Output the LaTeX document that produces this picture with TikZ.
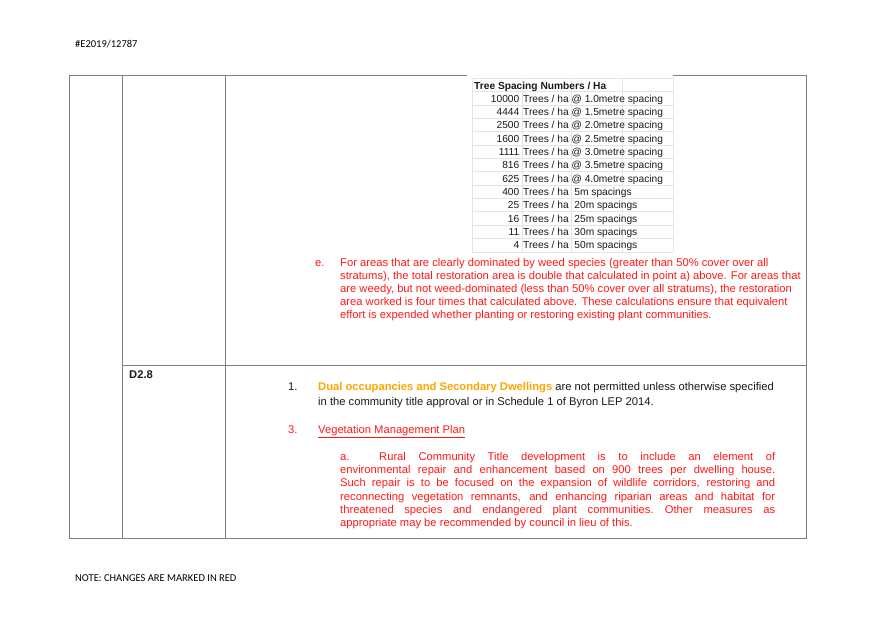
\documentclass[tikz,border=0pt]{standalone}
\usepackage{fontspec}
\setmainfont{Liberation Sans}
\newfontfamily\calfont{Carlito}
\usepackage{xcolor}
\definecolor{redt}{HTML}{FF1A1A}
\definecolor{oranget}{HTML}{FFA500}
\definecolor{gridc}{HTML}{E4E4E4}
\definecolor{border}{HTML}{808080}
\definecolor{blk}{HTML}{1A1A1A}
\begin{document}
\begin{tikzpicture}[x=1pt,y=-1pt,
  tline/.style={inner sep=0,anchor=base west,font=\fontsize{10.2}{12}\selectfont,text=blk},
  rl/.style={inner sep=0,anchor=base west,font=\fontsize{11.2}{13}\selectfont,text=redt},
  bl/.style={inner sep=0,anchor=base west,font=\fontsize{11.2}{13}\selectfont,text=blk},
  tbl/.style={draw=border,line width=0.8pt},
  grid/.style={draw=gridc,line width=0.5pt}]
\useasboundingbox[fill=white] (0,0) rectangle (875,619);
\node[inner sep=0,anchor=base west,font=\calfont\fontsize{10.5}{12}\selectfont] (hdr) at (75,47) {\#E2019/12787};
\node[inner sep=0,anchor=base west,font=\calfont\fontsize{10.5}{12}\selectfont] (ftr) at (75,581) {NOTE: CHANGES ARE MARKED IN RED};
% outer table
\draw[tbl] (69,75) -- (467,75) (673,75) -- (806,75);
\draw[tbl] (69,75) -- (69,538) -- (806,538) -- (806,75);
\draw[tbl] (122,75) -- (122,538);
\draw[tbl] (225,75) -- (225,538);
\draw[tbl] (122,365) -- (806,365);
% tree spacing grid
\foreach \y in {78,91,105,118,131,145,158,171,185,198,211,225,238,252}
  \draw[grid] (472,\y) -- (673,\y);
\foreach \x in {472,522,571,622,673}
  \draw[grid] (\x,78) -- (\x,252);
\node[tline,font=\bfseries\fontsize{10.2}{12}\selectfont] (th) at (474,89) {Tree Spacing Numbers / Ha};
\foreach \n/\r [count=\i] in {10000/ha @ 1.0metre spacing,4444/ha @ 1.5metre spacing,2500/ha @ 2.0metre spacing,1600/ha @ 2.5metre spacing,1111/ha @ 3.0metre spacing,816/ha @ 3.5metre spacing,625/ha @ 4.0metre spacing,400/ha\ \ 5m spacings,25/ha\ \ 20m spacings,16/ha\ \ 25m spacings,11/ha\ \ 30m spacings,4/ha\ \ 50m spacings}{
  \node[inner sep=0,anchor=base east,font=\fontsize{10.2}{12}\selectfont,text=blk] (n\i) at (519.5,89+13.3*\i) {\n};
  \node[tline] (r\i) at (523,89+13.3*\i) {Trees / \r};
}
% e paragraph
\node[rl] (e) at (315,266) {e.};
\node[rl] (e1) at (340,266) {For areas that are clearly dominated by weed species (greater than 50\% cover over all};
\node[rl] (e2) at (340,279) {stratums), the total restoration area is double that calculated in point a) above. For areas that};
\node[rl] (e3) at (340,292) {are weedy, but not weed-dominated (less than 50\% cover over all stratums), the restoration};
\node[rl] (e4) at (340,305) {area worked is four times that calculated above. These calculations ensure that equivalent};
\node[rl] (e5) at (340,318) {effort is expended whether planting or restoring existing plant communities.};
% D2.8
\node[bl,font=\bfseries\fontsize{11.2}{13}\selectfont] (d) at (129,378) {D2.8};
\node[bl] (one) at (288,390) {1.};
\node[bl] (p1) at (318,390) {\textcolor{oranget}{\bfseries Dual occupancies and Secondary Dwellings} are not permitted unless otherwise specified};
\node[bl] (p2) at (318,405.5) {in the community title approval or in Schedule 1 of Byron LEP 2014.};
\node[rl] (three) at (288,433) {3.};
\node[rl] (veg) at (318,433) {\underline{Vegetation Management Plan}};
\node[rl] (a) at (340,460) {a.};
\node[rl] (a1) at (379,460) {\makebox[396pt][s]{Rural Community Title development is to include an element of}};
\node[rl] (a2) at (340,473.3) {\makebox[435pt][s]{environmental repair and enhancement based on 900 trees per dwelling house.}};
\node[rl] (a3) at (340,486.7) {\makebox[435pt][s]{Such repair is to be focused on the expansion of wildlife corridors, restoring and}};
\node[rl] (a4) at (340,500) {\makebox[435pt][s]{reconnecting vegetation remnants, and enhancing riparian areas and habitat for}};
\node[rl] (a5) at (340,513.3) {\makebox[435pt][s]{threatened species and endangered plant communities.\quad Other measures as}};
\node[rl] (a6) at (340,526.7) {appropriate may be recommended by council in lieu of this.};
\end{tikzpicture}
\end{document}
